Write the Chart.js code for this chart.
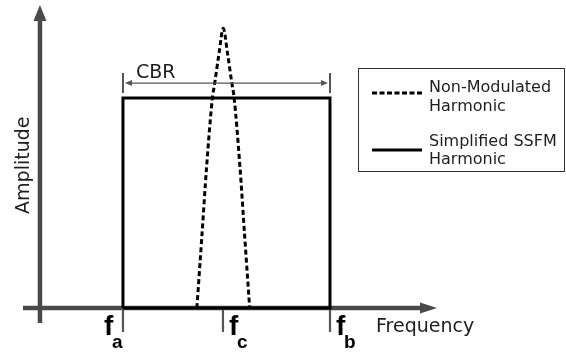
<!DOCTYPE html>
<html>
<head>
<meta charset="utf-8">
<script src="https://cdn.jsdelivr.net/npm/chart.js@4/dist/chart.umd.min.js"></script>
<style>
  body { margin: 0; background: #fff; }
  #wrap { width: 566px; height: 352px; position: relative; }
</style>
</head>
<body>
<div id="wrap"><canvas id="canvas"></canvas></div>
<script>
// frequency in band units: f_a = 0, f_b = 1; amplitude: flat SSFM level = 1
var markNames = ['a', 'c', 'b'];
var markFreq = [0, 0.483, 1];

var ssfmFreq = [0, 0, 1, 1, 0];
var ssfmAmp = [0, 1, 1, 0, 0];

var harmFreq = [0.357, 0.381, 0.404, 0.432, 0.443, 0.464, 0.4845, 0.505, 0.526, 0.537, 0.565, 0.588, 0.612];
var harmAmp = [0, 0.34, 0.673, 1.0, 1.07, 1.213, 1.332, 1.213, 1.07, 1.0, 0.673, 0.34, 0];

var legendLabels = [['Non-Modulated', 'Harmonic'], ['Simplified SSFM', 'Harmonic']];

var toPoints = function(xs, ys) {
    return xs.map(function(x, i) { return { x: x, y: ys[i] }; });
};

var axisColor = '#4a4a4a';
var textColor = '#1e1e1e';

var sketch = {
    id: 'sketch',
    beforeDatasetsDraw: function(chart) {
        var ctx = chart.ctx;
        var sx = chart.scales.x, sy = chart.scales.y;
        var px = function(v) { return sx.getPixelForValue(v); };
        var py = function(v) { return sy.getPixelForValue(v); };
        ctx.save();
        ctx.strokeStyle = axisColor;
        ctx.fillStyle = axisColor;
        // y axis with arrow
        var ax = px(-0.401);
        ctx.lineWidth = 4.5;
        ctx.beginPath();
        ctx.moveTo(ax, py(-0.071));
        ctx.lineTo(ax, py(1.443) + 12);
        ctx.stroke();
        ctx.beginPath();
        ctx.moveTo(ax, py(1.443));
        ctx.lineTo(ax - 6.5, py(1.443) + 16);
        ctx.lineTo(ax + 6.5, py(1.443) + 16);
        ctx.closePath();
        ctx.fill();
        // x axis with arrow
        var ay = py(0);
        ctx.lineWidth = 4.5;
        ctx.beginPath();
        ctx.moveTo(px(-0.483), ay);
        ctx.lineTo(px(1.517) - 12, ay);
        ctx.stroke();
        ctx.beginPath();
        ctx.moveTo(px(1.517), ay);
        ctx.lineTo(px(1.517) - 17, ay - 5.5);
        ctx.lineTo(px(1.517) - 17, ay + 5.5);
        ctx.closePath();
        ctx.fill();
        // frequency marks
        ctx.strokeStyle = '#555';
        ctx.lineWidth = 2.2;
        markFreq.forEach(function(f) {
            ctx.beginPath();
            ctx.moveTo(px(f), ay);
            ctx.lineTo(px(f), py(-0.114));
            ctx.stroke();
        });
        ctx.restore();
    },
    afterDatasetsDraw: function(chart) {
        var ctx = chart.ctx;
        var sx = chart.scales.x, sy = chart.scales.y;
        var px = function(v) { return sx.getPixelForValue(v); };
        var py = function(v) { return sy.getPixelForValue(v); };
        ctx.save();
        // CBR dimension line
        var cy = py(1.071);
        var x0 = px(0), x1 = px(1);
        ctx.strokeStyle = '#555';
        ctx.fillStyle = '#555';
        ctx.lineWidth = 2;
        ctx.beginPath();
        ctx.moveTo(x0, py(1.119)); ctx.lineTo(x0, py(1.024));
        ctx.moveTo(x1, py(1.119)); ctx.lineTo(x1, py(1.024));
        ctx.stroke();
        ctx.lineWidth = 1.3;
        ctx.beginPath();
        ctx.moveTo(x0 + 4, cy); ctx.lineTo(x1 - 4, cy);
        ctx.stroke();
        ctx.beginPath();
        ctx.moveTo(x0 + 2, cy); ctx.lineTo(x0 + 9, cy - 3); ctx.lineTo(x0 + 9, cy + 3); ctx.closePath();
        ctx.moveTo(x1 - 2, cy); ctx.lineTo(x1 - 9, cy - 3); ctx.lineTo(x1 - 9, cy + 3); ctx.closePath();
        ctx.fill();
        ctx.fillStyle = textColor;
        ctx.font = '19px "DejaVu Sans"';
        ctx.textBaseline = 'alphabetic';
        ctx.textAlign = 'left';
        ctx.fillText('CBR', x0 + 13, cy - 5);

        // axis titles
        ctx.font = '19px "DejaVu Sans"';
        ctx.fillText('Frequency', px(1.517) - 61, py(0) + 24);
        ctx.save();
        ctx.translate(px(-0.401) - 16, py(0.68));
        ctx.rotate(-Math.PI / 2);
        ctx.textAlign = 'center';
        ctx.textBaseline = 'middle';
        ctx.fillText('Amplitude', 0, 0);
        ctx.restore();

        // f_a, f_c, f_b labels
        ctx.fillStyle = '#000';
        markFreq.forEach(function(f, i) {
            var fx = i === 0 ? px(f) - 19 : px(f) + 6;
            ctx.font = 'bold 28px "Liberation Sans"';
            ctx.fillText('f', fx, py(0) + 27);
            ctx.font = 'bold 19px "Liberation Sans"';
            ctx.fillText(markNames[i], fx + 8, py(0) + 40);
        });

        // legend box
        ctx.strokeStyle = '#333';
        ctx.lineWidth = 1;
        ctx.strokeRect(358.5, 68.5, 206, 103);
        ctx.strokeStyle = '#000';
        ctx.lineWidth = 3;
        ctx.setLineDash([5, 2.5]);
        ctx.beginPath();
        ctx.moveTo(372, 93); ctx.lineTo(422, 93);
        ctx.stroke();
        ctx.setLineDash([]);
        ctx.beginPath();
        ctx.moveTo(372, 150); ctx.lineTo(422, 150);
        ctx.stroke();
        ctx.fillStyle = textColor;
        ctx.font = '16px "DejaVu Sans"';
        var rows = [[91.5, 110.5], [145.5, 163.5]];
        legendLabels.forEach(function(lines, i) {
            lines.forEach(function(t, j) {
                ctx.fillText(t, 429, rows[i][j]);
            });
        });
        ctx.restore();
    }
};

var config = {
    type: 'scatter',
    data: {
        datasets: [{
            label: 'Simplified SSFM Harmonic',
            data: toPoints(ssfmFreq, ssfmAmp),
            showLine: true,
            borderColor: '#000',
            borderWidth: 3,
            pointRadius: 0,
            tension: 0
        }, {
            label: 'Non-Modulated Harmonic',
            data: toPoints(harmFreq, harmAmp),
            showLine: true,
            borderColor: '#000',
            borderWidth: 3,
            borderDash: [5, 3],
            pointRadius: 0,
            cubicInterpolationMode: 'monotone'
        }]
    },
    options: {
        responsive: true,
        maintainAspectRatio: false,
        animation: false,
        layout: { padding: 0 },
        plugins: {
            legend: { display: false },
            title: { display: false },
            tooltip: { enabled: false }
        },
        scales: {
            x: { type: 'linear', min: -0.594, max: 2.140, display: false },
            y: { type: 'linear', min: -0.2095, max: 1.4667, display: false }
        }
    },
    plugins: [sketch]
};

window.onload = function() {
    window.myChart = new Chart(document.getElementById('canvas'), config);
};
</script>
</body>
</html>
